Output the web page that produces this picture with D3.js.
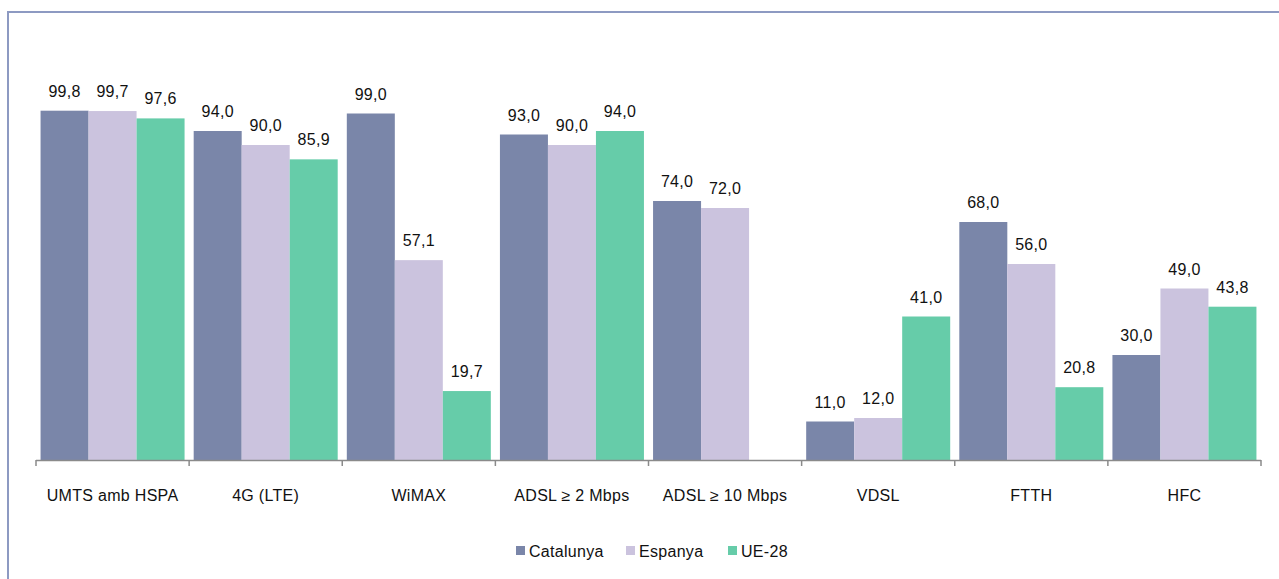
<!DOCTYPE html>
<html>
<head>
<meta charset="utf-8">
<script src="https://cdn.jsdelivr.net/npm/d3@7"></script>
<style>
  html, body { margin: 0; padding: 0; background: #fff; }
  svg { display: block; }
</style>
</head>
<body>
<svg id="chart" width="1279" height="579"></svg>
<script>
// Broadband coverage by technology (%)
const categories = ["UMTS amb HSPA", "4G (LTE)", "WiMAX", "ADSL \u2265 2 Mbps", "ADSL \u2265 10 Mbps", "VDSL", "FTTH", "HFC"];
const seriesNames = ["Catalunya", "Espanya", "UE-28"];
const catalunya = [99.8, 94.0, 99.0, 93.0, 74.0, 11.0, 68.0, 30.0];
const espanya   = [99.7, 90.0, 57.1, 90.0, 72.0, 12.0, 56.0, 49.0];
const ue28      = [97.6, 85.9, 19.7, 94.0, null, 41.0, 20.8, 43.8];
const colors = ["#7a86a9", "#cbc3de", "#66cca9"];

const seriesValues = [catalunya, espanya, ue28];
const fmt = v => v.toFixed(1).replace(".", ",");

const svg = d3.select("#chart");
const font = "'Liberation Sans', Arial, sans-serif";
const fontSize = 16;
const spacing = 0.3;

// Outer frame
svg.append("rect")
  .attr("x", 8).attr("y", 12)
  .attr("width", 1300).attr("height", 600)
  .attr("fill", "none")
  .attr("stroke", "#8d9ac2")
  .attr("stroke-width", 2);

const x0 = d3.scaleBand().domain(categories).range([36, 1261]).paddingInner(0).paddingOuter(0);
const x1 = d3.scaleBand().domain(seriesNames).range([0, x0.bandwidth()]).paddingInner(0).paddingOuter(0.095);
const y = d3.scaleLinear().domain([0, 100]).range([460, 110]);

const rows = categories.map((c, i) => ({
  cat: c,
  vals: seriesNames.map((s, j) => ({ s, j, v: seriesValues[j][i] }))
}));

const groups = svg.append("g").selectAll("g")
  .data(rows).join("g")
  .attr("transform", d => `translate(${x0(d.cat)},0)`);

groups.selectAll("rect")
  .data(d => d.vals.filter(e => e.v != null))
  .join("rect")
  .attr("x", e => x1(e.s))
  .attr("y", e => y(e.v))
  .attr("width", x1.bandwidth())
  .attr("height", e => y(0) - y(e.v))
  .attr("fill", e => colors[e.j]);

groups.selectAll("text")
  .data(d => d.vals.filter(e => e.v != null))
  .join("text")
  .attr("x", e => x1(e.s) + x1.bandwidth() / 2)
  .attr("y", e => y(e.v) - 14)
  .attr("text-anchor", "middle")
  .attr("font-family", font)
  .attr("font-size", fontSize)
  .attr("letter-spacing", spacing)
  .attr("fill", "#111")
  .text(e => fmt(e.v));

// Category axis with ticks between groups
const axisG = svg.append("g");
axisG.append("line")
  .attr("x1", 36).attr("x2", 1261)
  .attr("y1", 460.5).attr("y2", 460.5)
  .attr("stroke", "#8a8a8a").attr("stroke-width", 1.5);

const tickPos = categories.map(c => x0(c)).concat([x0(categories[categories.length - 1]) + x0.bandwidth()]);
axisG.selectAll("line.tick")
  .data(tickPos).join("line")
  .attr("class", "tick")
  .attr("x1", d => d).attr("x2", d => d)
  .attr("y1", 460).attr("y2", 466)
  .attr("stroke", "#8a8a8a").attr("stroke-width", 1.5);

axisG.selectAll("text")
  .data(categories).join("text")
  .attr("x", c => x0(c) + x0.bandwidth() / 2)
  .attr("y", 501)
  .attr("text-anchor", "middle")
  .attr("font-family", font)
  .attr("font-size", fontSize)
  .attr("letter-spacing", spacing)
  .attr("fill", "#111")
  .text(c => c);

// Legend
const legendX = [516, 626, 728];
const legend = svg.append("g").selectAll("g")
  .data(seriesNames).join("g")
  .attr("transform", (d, i) => `translate(${legendX[i]},546)`);
legend.append("rect")
  .attr("width", 9).attr("height", 9)
  .attr("fill", (d, i) => colors[i]);
legend.append("text")
  .attr("x", 13).attr("y", 11)
  .attr("font-family", font)
  .attr("font-size", fontSize)
  .attr("letter-spacing", spacing)
  .attr("fill", "#111")
  .text(d => d);
</script>
</body>
</html>
